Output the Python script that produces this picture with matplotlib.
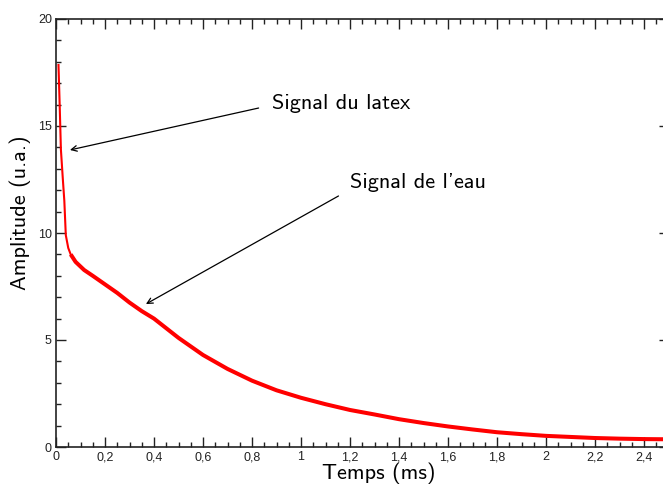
import matplotlib
matplotlib.use("Agg")
import matplotlib.pyplot as plt
from matplotlib.ticker import FixedLocator, MultipleLocator, FuncFormatter

# Relaxation signal (u.a.) versus time (ms)
temps = [0.01, 0.015, 0.02, 0.028, 0.034, 0.04, 0.05, 0.06, 0.08, 0.115,
         0.15, 0.2, 0.25, 0.3, 0.35, 0.4, 0.45, 0.5, 0.6, 0.7, 0.8, 0.9,
         1.0, 1.1, 1.2, 1.3, 1.4, 1.5, 1.6, 1.7, 1.8, 1.9, 2.0, 2.1, 2.2,
         2.3, 2.4, 2.5]
amplitude = [17.9, 16.0, 13.9, 12.5, 11.5, 9.9, 9.3, 9.0, 8.65, 8.27,
             8.0, 7.6, 7.2, 6.75, 6.35, 6.0, 5.55, 5.1, 4.3, 3.65, 3.1, 2.65,
             2.3, 2.0, 1.73, 1.52, 1.3, 1.12, 0.96, 0.82, 0.69, 0.6, 0.52,
             0.47, 0.42, 0.39, 0.37, 0.36]

x_major = [0, 0.2, 0.4, 0.6, 0.8, 1, 1.2, 1.4, 1.6, 1.8, 2, 2.2, 2.4]
y_major = [0, 5, 10, 15, 20]

label_font = "cmss10"
tick_font = "Liberation Sans"

fig = plt.figure(figsize=(6.63, 4.86), dpi=100)
ax = fig.add_axes([56 / 663, 39 / 486, 612.5 / 663, 428 / 486])

# thin line on the steep part, wider band for the noisy tail
ax.plot(temps, amplitude, color="#ff0000", lw=1.5, solid_capstyle="butt")
tail = [i for i, t in enumerate(temps) if t >= 0.06]
ax.plot([temps[i] for i in tail], [amplitude[i] for i in tail],
        color="#ff0000", lw=2.9, solid_capstyle="butt", solid_joinstyle="round")

ax.set_xlim(0, 2.5)
ax.set_ylim(0, 20)

ax.xaxis.set_major_locator(FixedLocator(x_major))
ax.xaxis.set_minor_locator(MultipleLocator(0.05))
ax.yaxis.set_major_locator(FixedLocator(y_major))
ax.yaxis.set_minor_locator(MultipleLocator(1))

def comma_fmt(v, pos):
    s = ("%.1f" % v).rstrip("0").rstrip(".")
    return s.replace(".", ",")

ax.xaxis.set_major_formatter(FuncFormatter(comma_fmt))
ax.yaxis.set_major_formatter(FuncFormatter(comma_fmt))

ax.tick_params(which="both", direction="in", top=True, right=True,
               color="#222222", width=1.0)
ax.tick_params(which="major", length=7.2)
ax.tick_params(which="minor", length=3.6)
ax.tick_params(axis="x", which="major", pad=3)
ax.tick_params(axis="y", which="major", pad=3)
for lab in ax.get_xticklabels() + ax.get_yticklabels():
    lab.set_fontfamily(tick_font)
    lab.set_fontsize(9)
    lab.set_color("#222222")

for sp in ax.spines.values():
    sp.set_linewidth(1.2)
    sp.set_color("#222222")

ax.set_xlabel("Temps (ms)", fontfamily=label_font, fontsize=16)
ax.xaxis.set_label_coords(0.527, -0.037)
ax.set_ylabel("Amplitude (u.a.)", fontfamily=label_font, fontsize=16)
ax.yaxis.set_label_coords(-0.041, 0.548)

arrow = dict(arrowstyle="->", color="black", lw=0.9, shrinkA=0, shrinkB=0)
ax.annotate("", xy=(0.057, 13.88), xytext=(0.827, 15.84), arrowprops=arrow)
ax.text(0.88, 16.07, "Signal du latex", fontfamily=label_font, fontsize=16,
        va="center", ha="left")
ax.annotate("", xy=(0.367, 6.68), xytext=(1.153, 11.73), arrowprops=arrow)
ax.text(1.2, 12.34, "Signal de l'eau", fontfamily=label_font, fontsize=16,
        va="center", ha="left")

fig.savefig("out.png", dpi=100)
